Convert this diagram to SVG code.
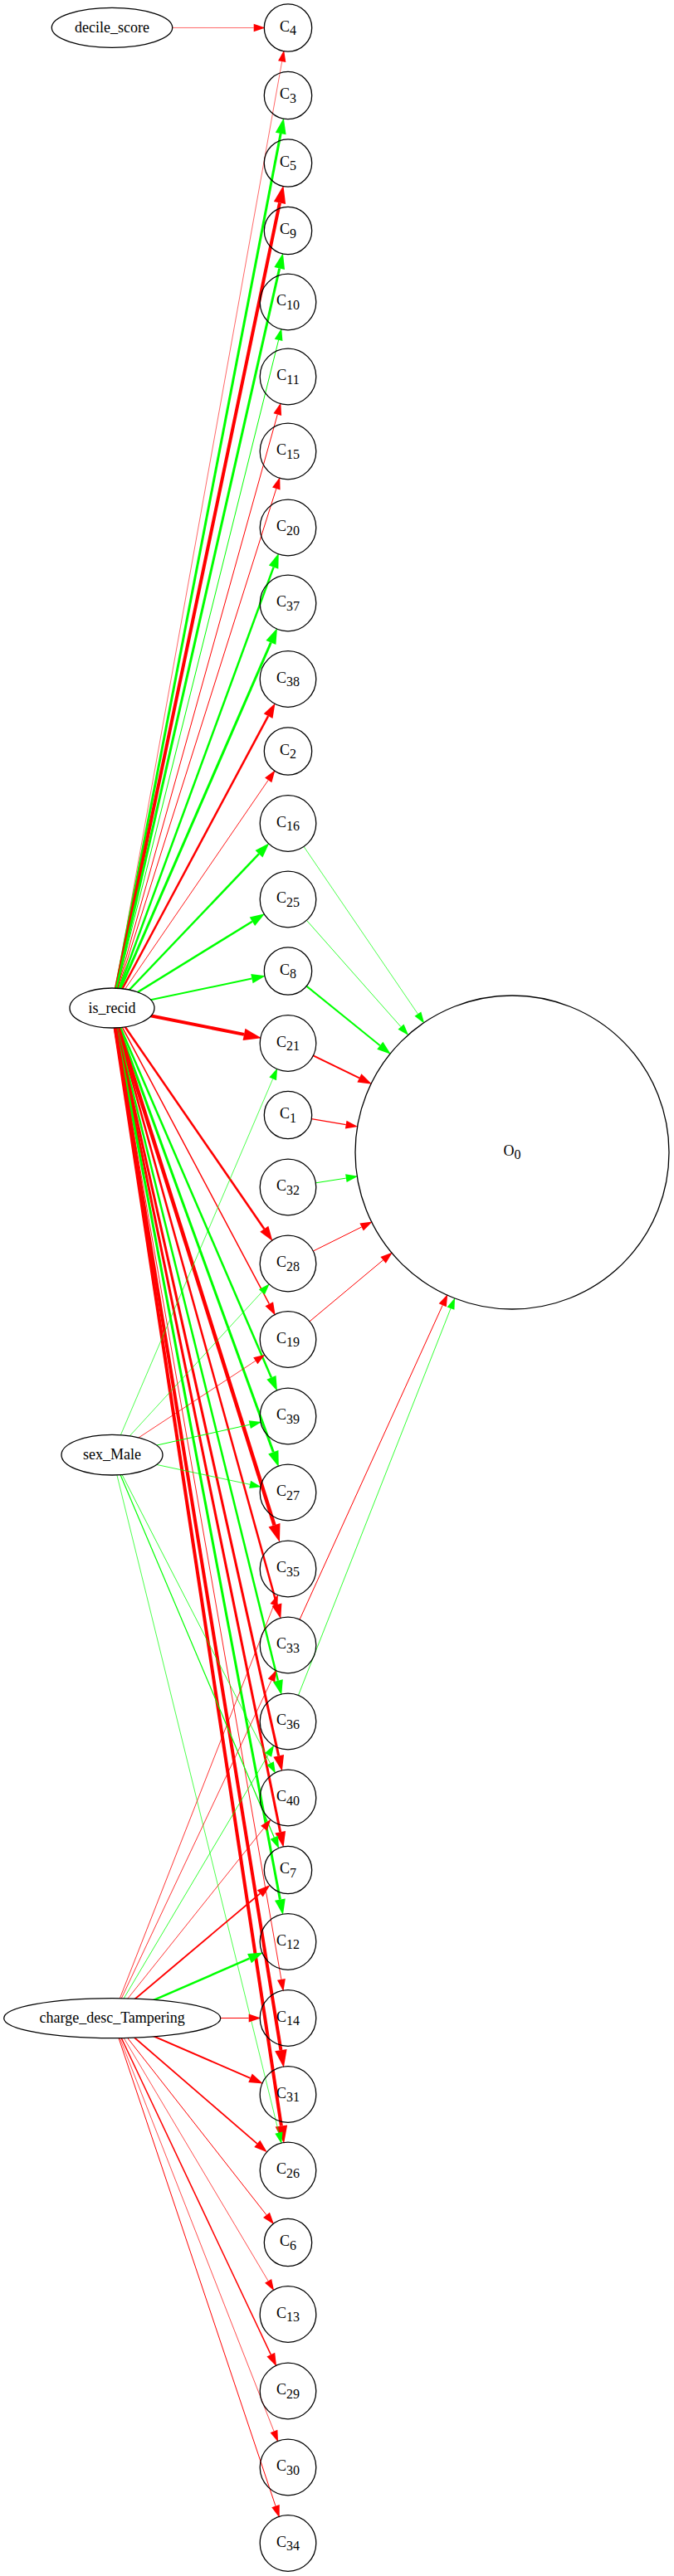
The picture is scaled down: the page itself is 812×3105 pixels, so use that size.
<svg xmlns="http://www.w3.org/2000/svg" width="812" height="3105" viewBox="0 0 812 3105">
<style>
.n ellipse,.n circle{fill:none;stroke:#000;stroke-width:1.3}
.src ellipse{fill:#fff}
text{font-family:"Liberation Serif","Times New Roman",serif;fill:#000}
.lbl{font-size:18px;text-anchor:middle}
.cl{font-size:18px;text-anchor:middle}
.sub{font-size:16px}
#edges line{fill:none}
.r{stroke:#f00}
.g{stroke:#0f0}
</style>
<defs>
<marker id="rt" markerUnits="userSpaceOnUse" orient="auto" overflow="visible" viewBox="0 -10 30 20" markerWidth="30" markerHeight="20" refX="0" refY="0"><path d="M0,-4.7L13.9,0L0,4.7z" fill="#f00"/></marker>
<marker id="r1" markerUnits="userSpaceOnUse" orient="auto" overflow="visible" viewBox="0 -10 30 20" markerWidth="30" markerHeight="20" refX="0" refY="0"><path d="M0,-5L14.7,0L0,5z" fill="#f00"/></marker>
<marker id="r15" markerUnits="userSpaceOnUse" orient="auto" overflow="visible" viewBox="0 -10 30 20" markerWidth="30" markerHeight="20" refX="0" refY="0"><path d="M0,-5.4L16,0L0,5.4z" fill="#f00"/></marker>
<marker id="r2" markerUnits="userSpaceOnUse" orient="auto" overflow="visible" viewBox="0 -10 30 20" markerWidth="30" markerHeight="20" refX="0" refY="0"><path d="M0,-5.7L16.8,0L0,5.7z" fill="#f00"/></marker>
<marker id="r25" markerUnits="userSpaceOnUse" orient="auto" overflow="visible" viewBox="0 -10 30 20" markerWidth="30" markerHeight="20" refX="0" refY="0"><path d="M0,-6.1L17.9,0L0,6.1z" fill="#f00"/></marker>
<marker id="r3" markerUnits="userSpaceOnUse" orient="auto" overflow="visible" viewBox="0 -10 30 20" markerWidth="30" markerHeight="20" refX="0" refY="0"><path d="M0,-6.5L19,0L0,6.5z" fill="#f00"/></marker>
<marker id="r4" markerUnits="userSpaceOnUse" orient="auto" overflow="visible" viewBox="0 -10 30 20" markerWidth="30" markerHeight="20" refX="0" refY="0"><path d="M0,-7.3L21.5,0L0,7.3z" fill="#f00"/></marker>
<marker id="gt" markerUnits="userSpaceOnUse" orient="auto" overflow="visible" viewBox="0 -10 30 20" markerWidth="30" markerHeight="20" refX="0" refY="0"><path d="M0,-4.7L13.9,0L0,4.7z" fill="#0f0"/></marker>
<marker id="g1" markerUnits="userSpaceOnUse" orient="auto" overflow="visible" viewBox="0 -10 30 20" markerWidth="30" markerHeight="20" refX="0" refY="0"><path d="M0,-5L14.7,0L0,5z" fill="#0f0"/></marker>
<marker id="g2" markerUnits="userSpaceOnUse" orient="auto" overflow="visible" viewBox="0 -10 30 20" markerWidth="30" markerHeight="20" refX="0" refY="0"><path d="M0,-5.7L16.8,0L0,5.7z" fill="#0f0"/></marker>
<marker id="g25" markerUnits="userSpaceOnUse" orient="auto" overflow="visible" viewBox="0 -10 30 20" markerWidth="30" markerHeight="20" refX="0" refY="0"><path d="M0,-6.1L17.9,0L0,6.1z" fill="#0f0"/></marker>
<marker id="g3" markerUnits="userSpaceOnUse" orient="auto" overflow="visible" viewBox="0 -10 30 20" markerWidth="30" markerHeight="20" refX="0" refY="0"><path d="M0,-6.5L19,0L0,6.5z" fill="#0f0"/></marker>
</defs>
<g id="edges">
<line class="r" x1="135" y1="33.4" x2="305.7" y2="33.5" stroke-width="0.6" marker-end="url(#rt)"/>
<line class="r" x1="135" y1="1215" x2="339.7" y2="74.2" stroke-width="0.6" marker-end="url(#rt)"/>
<line class="g" x1="135" y1="1215" x2="338.2" y2="160.9" stroke-width="3" marker-end="url(#g3)"/>
<line class="r" x1="135" y1="1215" x2="337.0" y2="244.5" stroke-width="4" marker-end="url(#r4)"/>
<line class="g" x1="135" y1="1215" x2="336.7" y2="323.5" stroke-width="3" marker-end="url(#g3)"/>
<line class="g" x1="135" y1="1215" x2="335.6" y2="409.9" stroke-width="1" marker-end="url(#g1)"/>
<line class="r" x1="135" y1="1215" x2="334.3" y2="499.6" stroke-width="1" marker-end="url(#r1)"/>
<line class="r" x1="135" y1="1215" x2="332.8" y2="589.1" stroke-width="1" marker-end="url(#r1)"/>
<line class="g" x1="135" y1="1215" x2="329.6" y2="683.6" stroke-width="2.5" marker-end="url(#g25)"/>
<line class="g" x1="135" y1="1215" x2="326.4" y2="774.5" stroke-width="3" marker-end="url(#g3)"/>
<line class="r" x1="135" y1="1215" x2="323.1" y2="863.2" stroke-width="2.5" marker-end="url(#r25)"/>
<line class="r" x1="135" y1="1215" x2="323.2" y2="940.3" stroke-width="0.9" marker-end="url(#r1)"/>
<line class="g" x1="135" y1="1215" x2="312.0" y2="1029.2" stroke-width="2.5" marker-end="url(#g25)"/>
<line class="g" x1="135" y1="1215" x2="303.9" y2="1110.7" stroke-width="2.5" marker-end="url(#g25)"/>
<line class="g" x1="135" y1="1215" x2="303.4" y2="1179.6" stroke-width="2" marker-end="url(#g2)"/>
<line class="r" x1="135" y1="1215" x2="294.0" y2="1246.9" stroke-width="4" marker-end="url(#r4)"/>
<line class="r" x1="135" y1="1215" x2="318.3" y2="1481.2" stroke-width="2.5" marker-end="url(#r25)"/>
<line class="r" x1="135" y1="1215" x2="324.3" y2="1571.7" stroke-width="1.5" marker-end="url(#r15)"/>
<line class="g" x1="135" y1="1215" x2="326.9" y2="1660.4" stroke-width="2.5" marker-end="url(#g25)"/>
<line class="g" x1="135" y1="1215" x2="329.3" y2="1750.3" stroke-width="3" marker-end="url(#g3)"/>
<line class="r" x1="135" y1="1215" x2="330.5" y2="1838.3" stroke-width="4.5" marker-end="url(#r4)"/>
<line class="r" x1="135" y1="1215" x2="333.5" y2="1934.1" stroke-width="2.5" marker-end="url(#r25)"/>
<line class="g" x1="135" y1="1215" x2="334.9" y2="2025.8" stroke-width="2.5" marker-end="url(#g25)"/>
<line class="r" x1="135" y1="1215" x2="335.7" y2="2116.4" stroke-width="3" marker-end="url(#r3)"/>
<line class="r" x1="135" y1="1215" x2="337.7" y2="2208.2" stroke-width="3" marker-end="url(#r3)"/>
<line class="g" x1="135" y1="1215" x2="337.4" y2="2289.6" stroke-width="3" marker-end="url(#g3)"/>
<line class="r" x1="135" y1="1215" x2="338.9" y2="2385.9" stroke-width="0.9" marker-end="url(#r1)"/>
<line class="r" x1="135" y1="1215" x2="338.4" y2="2471.1" stroke-width="4" marker-end="url(#r4)"/>
<line class="r" x1="135" y1="1215" x2="338.9" y2="2562.5" stroke-width="4" marker-end="url(#r4)"/>
<line class="g" x1="135" y1="1754" x2="328.7" y2="1300.4" stroke-width="0.7" marker-end="url(#gt)"/>
<line class="g" x1="135" y1="1754" x2="315.4" y2="1557.4" stroke-width="0.7" marker-end="url(#gt)"/>
<line class="r" x1="135" y1="1754" x2="307.8" y2="1640.3" stroke-width="0.8" marker-end="url(#rt)"/>
<line class="g" x1="135" y1="1754" x2="300.8" y2="1717.2" stroke-width="1" marker-end="url(#g1)"/>
<line class="g" x1="135" y1="1754" x2="301.1" y2="1789.3" stroke-width="0.8" marker-end="url(#gt)"/>
<line class="g" x1="135" y1="1754" x2="325.6" y2="2125.3" stroke-width="0.8" marker-end="url(#gt)"/>
<line class="g" x1="135" y1="1754" x2="330.3" y2="2214.7" stroke-width="1.2" marker-end="url(#g1)"/>
<line class="g" x1="135" y1="1754" x2="335.9" y2="2570.7" stroke-width="0.7" marker-end="url(#gt)"/>
<line class="r" x1="135" y1="2432.7" x2="329.9" y2="1934.7" stroke-width="0.8" marker-end="url(#rt)"/>
<line class="r" x1="135" y1="2432.7" x2="327.0" y2="2025.4" stroke-width="0.8" marker-end="url(#rt)"/>
<line class="g" x1="135" y1="2432.7" x2="323.1" y2="2115.3" stroke-width="0.8" marker-end="url(#gt)"/>
<line class="r" x1="135" y1="2432.7" x2="317.8" y2="2203.7" stroke-width="0.8" marker-end="url(#rt)"/>
<line class="r" x1="135" y1="2432.7" x2="313.3" y2="2282.4" stroke-width="1.8" marker-end="url(#r15)"/>
<line class="g" x1="135" y1="2432.7" x2="300.5" y2="2360.7" stroke-width="2.5" marker-end="url(#g25)"/>
<line class="r" x1="135" y1="2432.7" x2="299.7" y2="2432.5" stroke-width="1" marker-end="url(#r1)"/>
<line class="r" x1="135" y1="2432.7" x2="301.5" y2="2504.8" stroke-width="2" marker-end="url(#r2)"/>
<line class="r" x1="135" y1="2432.7" x2="309.8" y2="2583.9" stroke-width="1.8" marker-end="url(#r15)"/>
<line class="r" x1="135" y1="2432.7" x2="321.0" y2="2669.8" stroke-width="1" marker-end="url(#r1)"/>
<line class="r" x1="135" y1="2432.7" x2="323.1" y2="2749.4" stroke-width="0.7" marker-end="url(#rt)"/>
<line class="r" x1="135" y1="2432.7" x2="326.3" y2="2838.1" stroke-width="1.5" marker-end="url(#r15)"/>
<line class="r" x1="135" y1="2432.7" x2="330.0" y2="2930.5" stroke-width="0.7" marker-end="url(#rt)"/>
<line class="r" x1="135" y1="2432.7" x2="332.0" y2="3020.7" stroke-width="1" marker-end="url(#r1)"/>
<line class="g" x1="366.0" y1="1020.4" x2="503.4" y2="1222.1" stroke-width="0.7" marker-end="url(#gt)"/>
<line class="g" x1="369.4" y1="1109.3" x2="483.0" y2="1237.7" stroke-width="0.8" marker-end="url(#gt)"/>
<line class="g" x1="369.3" y1="1188.6" x2="457.8" y2="1260.2" stroke-width="2" marker-end="url(#g2)"/>
<line class="r" x1="377.4" y1="1272.3" x2="432.9" y2="1299.3" stroke-width="2" marker-end="url(#r2)"/>
<line class="r" x1="375.3" y1="1348.7" x2="416.7" y2="1355.6" stroke-width="1.2" marker-end="url(#r1)"/>
<line class="g" x1="380.4" y1="1425.8" x2="416.9" y2="1420.1" stroke-width="1" marker-end="url(#g1)"/>
<line class="r" x1="377.3" y1="1508.0" x2="435.6" y2="1479.0" stroke-width="1" marker-end="url(#r1)"/>
<line class="r" x1="373.0" y1="1592.8" x2="461.6" y2="1518.8" stroke-width="1" marker-end="url(#r1)"/>
<line class="r" x1="361.0" y1="1952.2" x2="533.2" y2="1573.3" stroke-width="1" marker-end="url(#r1)"/>
<line class="g" x1="359.4" y1="2043.5" x2="543.0" y2="1577.1" stroke-width="0.8" marker-end="url(#gt)"/>
</g>
<g id="node-decile_score" class="n src"><ellipse cx="135" cy="33.3" rx="72.7" ry="24"/><text class="lbl" x="135" y="38.8">decile_score</text></g>
<g id="node-is_recid" class="n src"><ellipse cx="135" cy="1215" rx="51" ry="24"/><text class="lbl" x="135" y="1220.5">is_recid</text></g>
<g id="node-sex_Male" class="n src"><ellipse cx="135" cy="1753.7" rx="61" ry="24.3"/><text class="lbl" x="135" y="1759.2">sex_Male</text></g>
<g id="node-charge_desc_Tampering" class="n src"><ellipse cx="135.2" cy="2432.7" rx="130.5" ry="24"/><text class="lbl" x="135.2" y="2438.2">charge_desc_Tampering</text></g>
<g id="node-C4" class="n"><circle cx="347" cy="33.5" r="28.7"/><text class="cl" x="347" y="37.5">C<tspan class="sub" dy="4.5">4</tspan></text></g>
<g id="node-C3" class="n"><circle cx="347" cy="115" r="28.7"/><text class="cl" x="347" y="119">C<tspan class="sub" dy="4.5">3</tspan></text></g>
<g id="node-C5" class="n"><circle cx="347" cy="196.5" r="28.7"/><text class="cl" x="347" y="200.5">C<tspan class="sub" dy="4.5">5</tspan></text></g>
<g id="node-C9" class="n"><circle cx="347" cy="278" r="28.7"/><text class="cl" x="347" y="282">C<tspan class="sub" dy="4.5">9</tspan></text></g>
<g id="node-C10" class="n"><circle cx="347" cy="364" r="33.8"/><text class="cl" x="347" y="368">C<tspan class="sub" dy="4.5">10</tspan></text></g>
<g id="node-C11" class="n"><circle cx="347" cy="454" r="33.8"/><text class="cl" x="347" y="458">C<tspan class="sub" dy="4.5">11</tspan></text></g>
<g id="node-C15" class="n"><circle cx="347" cy="544" r="33.8"/><text class="cl" x="347" y="548">C<tspan class="sub" dy="4.5">15</tspan></text></g>
<g id="node-C20" class="n"><circle cx="347" cy="636" r="33.8"/><text class="cl" x="347" y="640">C<tspan class="sub" dy="4.5">20</tspan></text></g>
<g id="node-C37" class="n"><circle cx="347" cy="727" r="33.8"/><text class="cl" x="347" y="731">C<tspan class="sub" dy="4.5">37</tspan></text></g>
<g id="node-C38" class="n"><circle cx="347" cy="818.5" r="33.8"/><text class="cl" x="347" y="822.5">C<tspan class="sub" dy="4.5">38</tspan></text></g>
<g id="node-C2" class="n"><circle cx="347" cy="905.5" r="28.7"/><text class="cl" x="347" y="909.5">C<tspan class="sub" dy="4.5">2</tspan></text></g>
<g id="node-C16" class="n"><circle cx="347" cy="992.5" r="33.8"/><text class="cl" x="347" y="996.5">C<tspan class="sub" dy="4.5">16</tspan></text></g>
<g id="node-C25" class="n"><circle cx="347" cy="1084" r="33.8"/><text class="cl" x="347" y="1088">C<tspan class="sub" dy="4.5">25</tspan></text></g>
<g id="node-C8" class="n"><circle cx="347" cy="1170.5" r="28.7"/><text class="cl" x="347" y="1174.5">C<tspan class="sub" dy="4.5">8</tspan></text></g>
<g id="node-C21" class="n"><circle cx="347" cy="1257.5" r="33.8"/><text class="cl" x="347" y="1261.5">C<tspan class="sub" dy="4.5">21</tspan></text></g>
<g id="node-C1" class="n"><circle cx="347" cy="1344" r="28.7"/><text class="cl" x="347" y="1348">C<tspan class="sub" dy="4.5">1</tspan></text></g>
<g id="node-C32" class="n"><circle cx="347" cy="1431" r="33.8"/><text class="cl" x="347" y="1435">C<tspan class="sub" dy="4.5">32</tspan></text></g>
<g id="node-C28" class="n"><circle cx="347" cy="1523" r="33.8"/><text class="cl" x="347" y="1527">C<tspan class="sub" dy="4.5">28</tspan></text></g>
<g id="node-C19" class="n"><circle cx="347" cy="1614.5" r="33.8"/><text class="cl" x="347" y="1618.5">C<tspan class="sub" dy="4.5">19</tspan></text></g>
<g id="node-C39" class="n"><circle cx="347" cy="1707" r="33.8"/><text class="cl" x="347" y="1711">C<tspan class="sub" dy="4.5">39</tspan></text></g>
<g id="node-C27" class="n"><circle cx="347" cy="1799" r="33.8"/><text class="cl" x="347" y="1803">C<tspan class="sub" dy="4.5">27</tspan></text></g>
<g id="node-C35" class="n"><circle cx="347" cy="1891" r="33.8"/><text class="cl" x="347" y="1895">C<tspan class="sub" dy="4.5">35</tspan></text></g>
<g id="node-C33" class="n"><circle cx="347" cy="1983" r="33.8"/><text class="cl" x="347" y="1987">C<tspan class="sub" dy="4.5">33</tspan></text></g>
<g id="node-C36" class="n"><circle cx="347" cy="2075" r="33.8"/><text class="cl" x="347" y="2079">C<tspan class="sub" dy="4.5">36</tspan></text></g>
<g id="node-C40" class="n"><circle cx="347" cy="2167" r="33.8"/><text class="cl" x="347" y="2171">C<tspan class="sub" dy="4.5">40</tspan></text></g>
<g id="node-C7" class="n"><circle cx="347" cy="2254" r="28.7"/><text class="cl" x="347" y="2258">C<tspan class="sub" dy="4.5">7</tspan></text></g>
<g id="node-C12" class="n"><circle cx="347" cy="2340.5" r="33.8"/><text class="cl" x="347" y="2344.5">C<tspan class="sub" dy="4.5">12</tspan></text></g>
<g id="node-C14" class="n"><circle cx="347" cy="2432.5" r="33.8"/><text class="cl" x="347" y="2436.5">C<tspan class="sub" dy="4.5">14</tspan></text></g>
<g id="node-C31" class="n"><circle cx="347" cy="2524.5" r="33.8"/><text class="cl" x="347" y="2528.5">C<tspan class="sub" dy="4.5">31</tspan></text></g>
<g id="node-C26" class="n"><circle cx="347" cy="2616" r="33.8"/><text class="cl" x="347" y="2620">C<tspan class="sub" dy="4.5">26</tspan></text></g>
<g id="node-C6" class="n"><circle cx="347" cy="2703" r="28.7"/><text class="cl" x="347" y="2707">C<tspan class="sub" dy="4.5">6</tspan></text></g>
<g id="node-C13" class="n"><circle cx="347" cy="2789.5" r="33.8"/><text class="cl" x="347" y="2793.5">C<tspan class="sub" dy="4.5">13</tspan></text></g>
<g id="node-C29" class="n"><circle cx="347" cy="2882" r="33.8"/><text class="cl" x="347" y="2886">C<tspan class="sub" dy="4.5">29</tspan></text></g>
<g id="node-C30" class="n"><circle cx="347" cy="2974" r="33.8"/><text class="cl" x="347" y="2978">C<tspan class="sub" dy="4.5">30</tspan></text></g>
<g id="node-C34" class="n"><circle cx="347" cy="3065.5" r="33.8"/><text class="cl" x="347" y="3069.5">C<tspan class="sub" dy="4.5">34</tspan></text></g>
<g id="node-O0" class="n"><circle cx="617" cy="1389" r="189"/><text class="cl" x="617" y="1393">O<tspan class="sub" dy="4">0</tspan></text></g>
</svg>
